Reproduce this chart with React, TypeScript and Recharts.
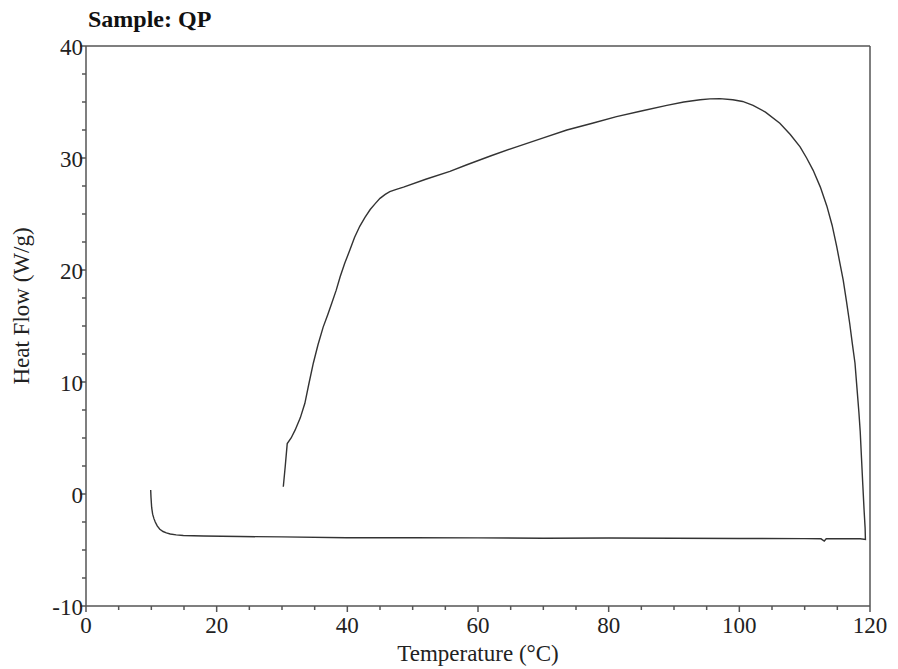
import { LineChart, Line, XAxis, YAxis, ReferenceLine } from "recharts";

// DSC trace in drawing order:
// baseline left -> right, then up the right edge, over the peak, down to ~30 °C
const tempC = [
    9.9, 9.95, 10.05, 10.2, 10.4, 10.6, 10.9, 11.3, 11.8, 12.3, 12.9, 13.8, 14.9, 18.0, 23.6, 30.0, 39.9,
    50.0, 60.0, 70.0, 80.0, 90.0, 100.0, 110.0, 112.5, 113.0, 113.3, 118.5, 119.3,
    119.25, 119.1, 118.9, 118.7, 118.5, 118.3, 118.0, 117.7, 117.3, 116.9, 116.4, 115.9, 115.4, 114.9,
    114.2, 113.4, 112.4, 111.3, 110.3, 109.3, 107.8, 106.2, 104.0, 102.1, 100.5, 99.0, 97.0,
    95.5, 94.0, 91.5, 88.9, 85.0, 81.2, 77.5, 73.6, 70.0, 65.9, 62.0, 58.3, 55.7,
    52.0, 48.6, 47.5, 46.5, 45.8, 45.0, 44.3, 43.5, 42.7, 41.9, 41.1, 40.4, 39.6, 38.9,
    38.3, 37.6, 37.0, 36.3, 35.5, 34.8, 34.1, 33.5, 32.8, 32.0, 31.4, 30.8, 30.5, 30.2,
];
const heatFlow = [
    0.36, -0.3, -1.2, -1.8, -2.2, -2.5, -2.85, -3.15, -3.35, -3.47, -3.57, -3.65, -3.7, -3.75, -3.8, -3.83, -3.9,
    -3.9, -3.92, -3.95, -3.93, -3.95, -3.97, -3.98, -4.0, -4.2, -4.0, -4.0, -4.05,
    -3.0, -1.5, 0.8, 3.2, 5.6, 7.3, 9.5, 11.7, 13.4, 15.2, 17.2, 19.1, 20.6, 22.1,
    24.0, 25.7, 27.4, 28.9, 30.0, 31.0, 32.1, 33.1, 34.1, 34.7, 35.05, 35.2, 35.3,
    35.28, 35.2, 35.0, 34.7, 34.2, 33.7, 33.1, 32.5, 31.8, 31.0, 30.2, 29.4, 28.8,
    28.1, 27.4, 27.2, 27.0, 26.75, 26.4, 25.95, 25.4, 24.7, 23.9, 22.9, 21.8, 20.6, 19.4,
    18.2, 17.0, 16.0, 14.9, 13.3, 11.7, 9.8, 8.1, 6.8, 5.7, 5.0, 4.5, 2.5, 0.65,
];

const xTicks = [0, 5, 10, 15, 20, 25, 30, 35, 40, 45, 50, 55, 60, 65, 70, 75, 80, 85, 90, 95, 100, 105, 110, 115, 120];
const yTicks = [-10, -7.5, -5, -2.5, 0, 2.5, 5, 7.5, 10, 12.5, 15, 17.5, 20, 22.5, 25, 27.5, 30, 32.5, 35, 37.5, 40];

const data = tempC.map((t, i) => ({ t, hf: heatFlow[i] }));

const FONT = "'Liberation Serif', 'DejaVu Serif', serif";
const AXIS = "#555";

function XTick({ x, y, payload }: any) {
    const major = payload.value % 20 === 0;
    return (
        <g>
            <line x1={x} y1={y} x2={x} y2={y + (major ? 6 : 4)} stroke={AXIS} strokeWidth={1.5} />
            {major && (
                <text x={x} y={y + 27} textAnchor="middle" fontSize={23} fontFamily={FONT} fill="#222">
                    {payload.value}
                </text>
            )}
        </g>
    );
}

function YTick({ x, y, payload }: any) {
    const major = payload.value % 10 === 0;
    return (
        <g>
            <line x1={x} y1={y} x2={x - (major ? 6 : 4)} y2={y} stroke={AXIS} strokeWidth={1.5} />
            {major && (
                <text x={x - 3} y={y + 9} textAnchor="end" fontSize={23} fontFamily={FONT} fill="#222">
                    {payload.value}
                </text>
            )}
        </g>
    );
}

export default function App() {
    return (
        <div style={{ position: "absolute", left: 0, top: 0, width: 898, height: 669, background: "#fff", fontFamily: FONT }}>
            <div style={{ position: "absolute", left: 88, top: 6, fontSize: 24, fontWeight: "bold", color: "#111" }}>
                Sample: QP
            </div>
            <div
                style={{
                    position: "absolute",
                    left: 22,
                    top: 306,
                    fontSize: 23,
                    color: "#222",
                    whiteSpace: "nowrap",
                    transform: "translate(-50%, -50%) rotate(-90deg)",
                }}
            >
                Heat Flow (W/g)
            </div>
            <div
                style={{
                    position: "absolute",
                    left: 0,
                    width: 956,
                    top: 641,
                    textAlign: "center",
                    fontSize: 23,
                    color: "#222",
                }}
            >
                Temperature (°C)
            </div>
            <LineChart width={898} height={669} data={data} margin={{ top: 46, right: 28, bottom: 33, left: 26 }}>
                <XAxis
                    dataKey="t"
                    type="number"
                    domain={[0, 120]}
                    ticks={xTicks}
                    interval={0}
                    tickSize={0}
                    tickMargin={0}
                    tickLine={false}
                    tick={<XTick />}
                    height={30}
                    stroke={AXIS}
                    strokeWidth={1.5}
                    allowDataOverflow
                />
                <YAxis
                    type="number"
                    domain={[-10, 40]}
                    ticks={yTicks}
                    interval={0}
                    tickSize={0}
                    tickMargin={0}
                    tickLine={false}
                    tick={<YTick />}
                    width={60}
                    stroke={AXIS}
                    strokeWidth={1.5}
                    allowDataOverflow
                />
                <ReferenceLine y={40} stroke={AXIS} strokeWidth={1.5} />
                <ReferenceLine x={120} stroke={AXIS} strokeWidth={1.5} />
                <Line
                    dataKey="hf"
                    type="linear"
                    stroke="#333"
                    strokeWidth={1.4}
                    dot={false}
                    isAnimationActive={false}
                />
            </LineChart>
        </div>
    );
}
